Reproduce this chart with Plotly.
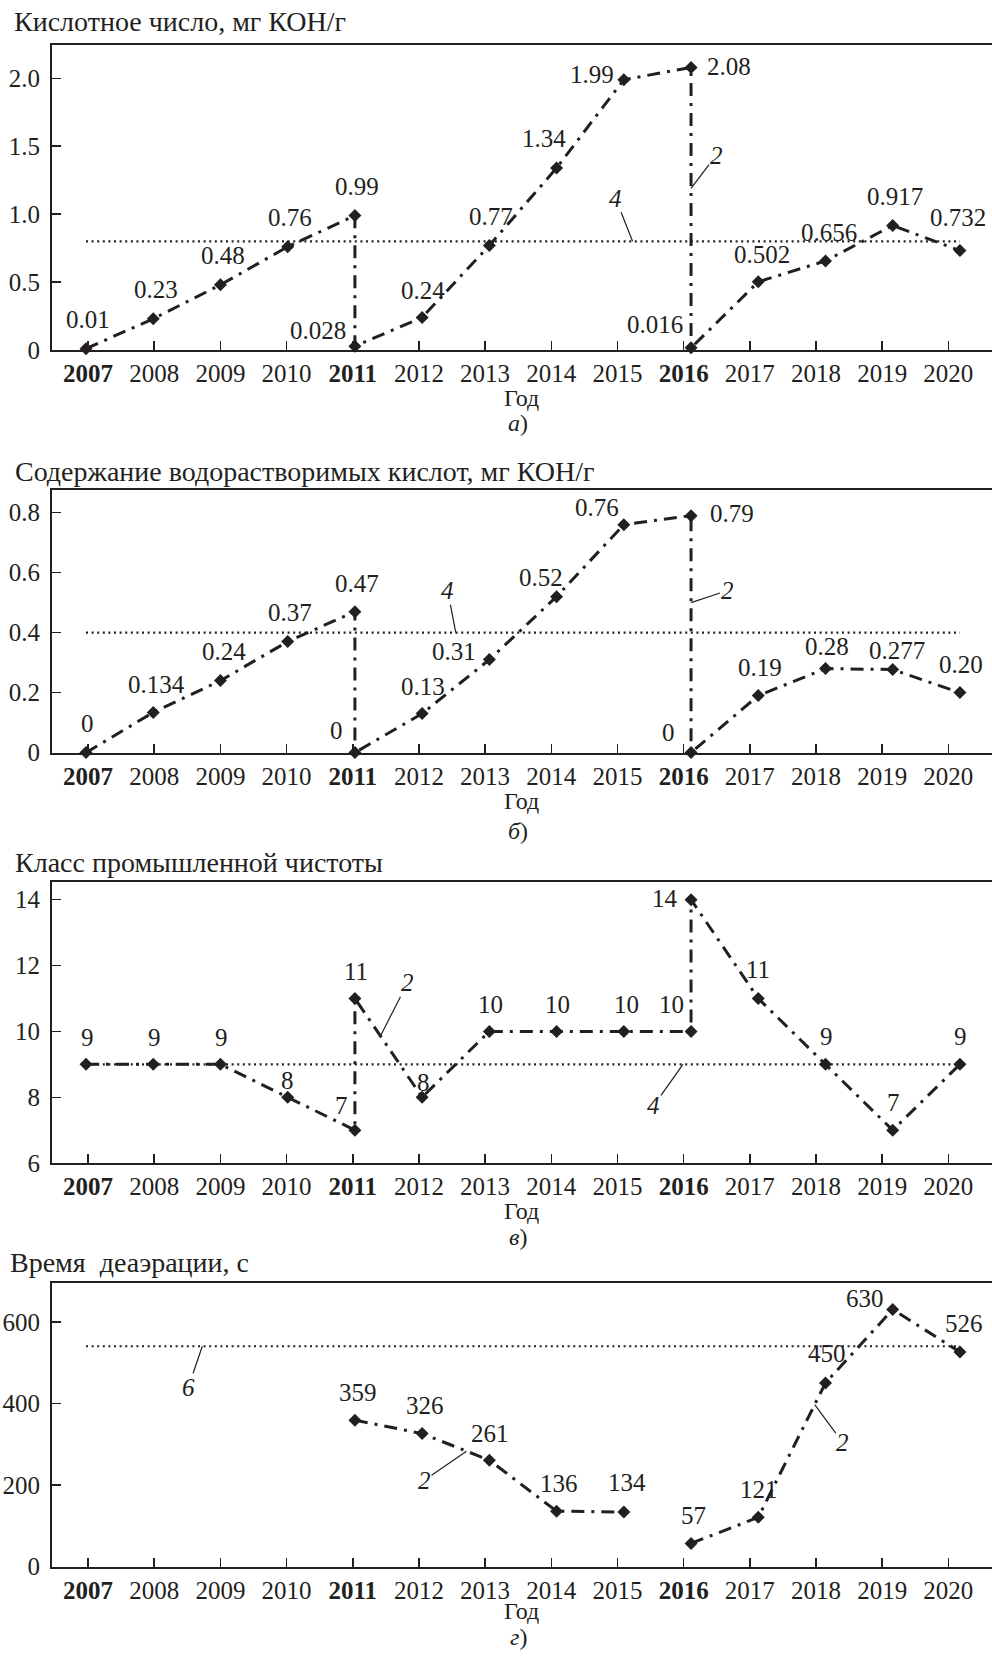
import plotly.graph_objects as go

W, H = 992, 1663
FONT = "Liberation Serif, Times New Roman, serif"
INK = "#231f20"

# ---------------- data ----------------
YEARS = list(range(2007, 2021))
BOLD_YEARS = [2007, 2011, 2016]

# a) acid number, mg KOH/g
a_x = [2007, 2008, 2009, 2010, 2011, 2011, 2012, 2013, 2014, 2015, 2016, 2016, 2017, 2018, 2019, 2020]
a_y = [0.01, 0.23, 0.48, 0.76, 0.99, 0.028, 0.24, 0.77, 1.34, 1.99, 2.08, 0.016, 0.502, 0.656, 0.917, 0.732]
a_lbl = ["0.01", "0.23", "0.48", "0.76", "0.99", "0.028", "0.24", "0.77", "1.34", "1.99", "2.08",
         "0.016", "0.502", "0.656", "0.917", "0.732"]
a_norm = 0.8
a_ticks = [0, 0.5, 1.0, 1.5, 2.0]
a_ticktext = ["0", "0.5", "1.0", "1.5", "2.0"]

# б) water-soluble acids, mg KOH/g
b_x = [2007, 2008, 2009, 2010, 2011, 2011, 2012, 2013, 2014, 2015, 2016, 2016, 2017, 2018, 2019, 2020]
b_y = [0, 0.134, 0.24, 0.37, 0.47, 0, 0.13, 0.31, 0.52, 0.76, 0.79, 0, 0.19, 0.28, 0.277, 0.20]
b_lbl = ["0", "0.134", "0.24", "0.37", "0.47", "0", "0.13", "0.31", "0.52", "0.76", "0.79",
         "0", "0.19", "0.28", "0.277", "0.20"]
b_norm = 0.4
b_ticks = [0, 0.2, 0.4, 0.6, 0.8]
b_ticktext = ["0", "0.2", "0.4", "0.6", "0.8"]

# в) industrial cleanliness class
c_x = [2007, 2008, 2009, 2010, 2011, 2011, 2012, 2013, 2014, 2015, 2016, 2016, 2017, 2018, 2019, 2020]
c_y = [9, 9, 9, 8, 7, 11, 8, 10, 10, 10, 10, 14, 11, 9, 7, 9]
c_lbl = ["9", "9", "9", "8", "7", "11", "8", "10", "10", "10", "10", "14", "11", "9", "7", "9"]
c_norm = 9
c_ticks = [6, 8, 10, 12, 14]
c_ticktext = ["6", "8", "10", "12", "14"]

# г) deaeration time, s
d_x = [2011, 2012, 2013, 2014, 2015, None, 2016, 2017, 2018, 2019, 2020]
d_y = [359, 326, 261, 136, 134, None, 57, 121, 450, 630, 526]
d_lbl = ["359", "326", "261", "136", "134", None, "57", "121", "450", "630", "526"]
d_norm = 540
d_ticks = [0, 200, 400, 600]
d_ticktext = ["0", "200", "400", "600"]

TITLES = ["Кислотное число, мг КОН/г",
          "Содержание водорастворимых кислот, мг КОН/г",
          "Класс промышленной чистоты",
          "Время\u00a0 деаэрации, с"]
SUBLABELS = ["а", "б", "в", "г"]
XTITLE = "Год"

# ---------------- layout / style ----------------
# label offsets (px) relative to each point: (dx, dy, xanchor)
C, L, R = "center", "left", "right"
a_off = [(2, 29, C), (3, 29, C), (3, 29, C), (2, 29, C), (2, 29, C), (-7, 16, R), (1, 27, C),
         (2, 29, C), (-13, 29, C), (-8, 5, R), (14, 1, L), (-6, 23, R), (4, 27, C), (4, 28, C),
         (2, 29, C), (-2, 33, C)]
b_off = [(1, 29, C), (3, 28, C), (4, 29, C), (2, 29, C), (2, 28, C), (-18, 22, C), (1, 27, C),
         (-11, 8, R), (-16, 19, C), (-3, 17, R), (17, 2, L), (-23, 20, C), (2, 28, C), (2, 22, C),
         (4, 19, C), (1, 28, C)]
c_off = [(1, 27, C), (1, 27, C), (1, 27, C), (0, 17, C), (-13, 25, C), (1, 27, C), (1, 15, C),
         (1, 27, C), (1, 27, C), (3, 27, C), (-5, 27, R), (-11, 1, R), (0, 29, C), (1, 28, C),
         (1, 28, C), (1, 28, C)]
d_off = [(3, 28, C), (3, 28, C), (1, 27, C), (2, 28, C), (3, 29, C), None, (2, 28, C), (1, 28, C),
         (2, 29, C), (-7, 11, R), (4, 28, C)]

# panel geometry in pixels (top, bottom)
PANELS_PX = [(45, 353), (494, 759), (889, 1173), (1294, 1580)]
YRANGES = [(0, 2.248), (0, 0.876), (6, 14.55), (0, 694.7)]
LEFT_PX = 52
DATA_XRANGE = [2006.494, 2020.477]
TICK_XRANGE = [2006.455, 2020.66]

# leader callouts: (panel, tip_x, tip_y, ax, ay, text)
CALLOUTS = [
    (0, 2015.13, a_norm, -17, -43, "4"),
    (0, 2016.0, 1.19, 25, -33, "2"),
    (1, 2012.5, b_norm, -8, -42, "4"),
    (1, 2016.0, 0.50, 36, -12, "2"),
    (2, 2011.38, 9.86, 27, -53, "2"),
    (2, 2015.88, c_norm, -29, 41, "4"),
    (3, 2008.73, d_norm, -14, 41, "6"),
    (3, 2012.66, 283, -42, 29, "2"),
    (3, 2017.84, 397, 28, 38, "2"),
]
BOTTOM_TEXT_PX = [(401, 427), (808, 838), (1221, 1248), (1625, 1651)]
TITLE_PX = [(12, 22), (13, 475), (13, 870), (8, 1273)]

series = [(a_x, a_y, a_lbl, a_off, a_norm, a_ticks, a_ticktext),
          (b_x, b_y, b_lbl, b_off, b_norm, b_ticks, b_ticktext),
          (c_x, c_y, c_lbl, c_off, c_norm, c_ticks, c_ticktext),
          (d_x, d_y, d_lbl, d_off, d_norm, d_ticks, d_ticktext)]

fig = go.Figure()
layout = dict(width=W, height=H, margin=dict(l=0, r=0, t=0, b=0),
              paper_bgcolor="white", plot_bgcolor="white", showlegend=False,
              font=dict(family=FONT, size=25, color=INK))
annotations = []

ticktext_years = [f"<b>{y}</b>" if y in BOLD_YEARS else str(y) for y in YEARS]
xdom = [LEFT_PX / W, 1.0]

for i, (xs, ys, lbls, offs, norm, yt, ytt) in enumerate(series):
    n = i + 1
    xd = f"x{2 * n - 1}" if n > 1 else "x"
    xt = f"x{2 * n}"
    yid = f"y{n}" if n > 1 else "y"
    top_px, bot_px = PANELS_PX[i]
    ydom = [1 - bot_px / H, 1 - top_px / H]

    fig.add_trace(go.Scatter(x=[YEARS[0], YEARS[-1]], y=[norm, norm], mode="lines",
                             line=dict(color=INK, width=2.2, dash="2px,3.6px"),
                             xaxis=xd, yaxis=yid, hoverinfo="skip", cliponaxis=False))
    fig.add_trace(go.Scatter(x=xs, y=ys, mode="lines+markers",
                             line=dict(color=INK, width=3, dash="13px,7px,3px,7px"),
                             marker=dict(symbol="diamond", size=10, color=INK),
                             connectgaps=False, xaxis=xd, yaxis=yid, cliponaxis=False))
    fig.add_trace(go.Scatter(x=[YEARS[0]], y=[None], mode="markers", xaxis=xt, yaxis=yid,
                             hoverinfo="skip"))

    layout[f"xaxis{2 * n - 1}" if n > 1 else "xaxis"] = dict(
        domain=xdom, range=DATA_XRANGE, anchor=yid, visible=False, fixedrange=True)
    layout[f"xaxis{2 * n}"] = dict(
        domain=xdom, range=TICK_XRANGE, anchor=yid, overlaying=xd,
        tickmode="array", tickvals=YEARS, ticktext=ticktext_years,
        ticks="inside", ticklen=9, tickwidth=1.5, tickcolor=INK,
        showline=True, linewidth=2, linecolor=INK, mirror=True,
        showgrid=False, zeroline=False, tickfont=dict(family=FONT, size=25, color=INK))
    layout[f"yaxis{n}" if n > 1 else "yaxis"] = dict(
        domain=ydom, range=list(YRANGES[i]), anchor=xd,
        tickmode="array", tickvals=yt, ticktext=ytt,
        ticks="inside", ticklen=9, tickwidth=1.5, tickcolor=INK,
        showline=True, linewidth=2, linecolor=INK, ticklabelstandoff=5,
        showgrid=False, zeroline=False, tickfont=dict(family=FONT, size=25, color=INK))

    for x, y, t, o in zip(xs, ys, lbls, offs):
        if t is None:
            continue
        dx, dy, anc = o
        annotations.append(dict(x=x, y=y, xref=xd, yref=yid, text=t, showarrow=False,
                                xanchor=anc, yanchor="middle", xshift=dx, yshift=dy,
                                font=dict(family=FONT, size=25, color=INK)))

    tx, ty = TITLE_PX[i]
    annotations.append(dict(x=tx / W, y=1 - ty / H, xref="paper", yref="paper", text=TITLES[i],
                            showarrow=False, xanchor="left", yanchor="middle",
                            font=dict(family=FONT, size=28, color=INK)))
    gy, sy = BOTTOM_TEXT_PX[i]
    annotations.append(dict(x=521 / W, y=1 - gy / H, xref="paper", yref="paper", text=XTITLE,
                            showarrow=False, xanchor="center", yanchor="middle",
                            font=dict(family=FONT, size=24, color=INK)))
    annotations.append(dict(x=518 / W, y=1 - sy / H, xref="paper", yref="paper",
                            text=f"<i>{SUBLABELS[i]}</i>)", showarrow=False,
                            xanchor="center", yanchor="middle",
                            font=dict(family=FONT, size=24, color=INK)))

for (p, tx, ty, ax, ay, t) in CALLOUTS:
    n = p + 1
    xd = f"x{2 * n - 1}" if n > 1 else "x"
    yid = f"y{n}" if n > 1 else "y"
    annotations.append(dict(x=tx, y=ty, xref=xd, yref=yid, text=f"<i>{t}</i>",
                            showarrow=True, arrowhead=0, arrowwidth=1.2, arrowcolor=INK,
                            ax=ax, ay=ay, standoff=0, borderpad=0,
                            font=dict(family=FONT, size=25, color=INK)))

layout["annotations"] = annotations
fig.update_layout(**layout)
fig.write_html("out.html", config={"displayModeBar": False, "staticPlot": True},
               post_script="document.body.style.margin='0';document.body.style.overflow='hidden';")
